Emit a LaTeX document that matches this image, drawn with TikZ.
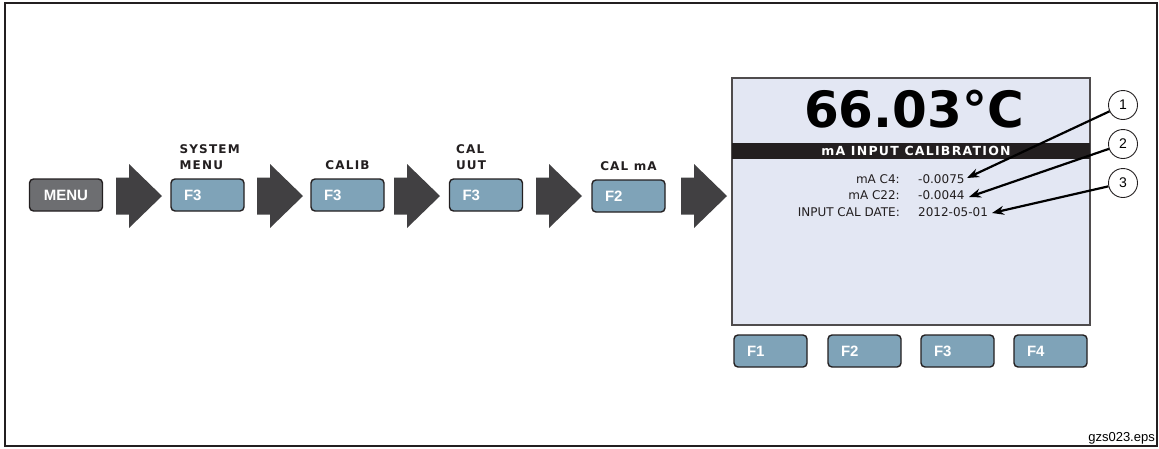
\documentclass[tikz,border=0pt]{standalone}
\usepackage{fontspec}
\setmainfont{DejaVu Sans}
\newfontfamily\keyfont{Liberation Sans}
\newfontfamily\capfont[LetterSpace=10]{DejaVu Sans}
\usetikzlibrary{
    arrows.meta,
    positioning
}
\definecolor{keyblue}{HTML}{7FA3B8}
\definecolor{menugray}{HTML}{6D6E71}
\definecolor{arrgray}{HTML}{414042}
\definecolor{lcdfill}{HTML}{E3E7F3}
\definecolor{inkline}{HTML}{231F20}
\tikzset{
    key/.style={draw=inkline, line width=1.4pt, rounded corners=4pt, fill=keyblue,
        minimum width=73pt, minimum height=32pt, text width=47pt, inner xsep=13pt,
        inner ysep=0pt, align=left, text=white, font=\keyfont\bfseries\fontsize{15}{15}\selectfont},
    menukey/.style={key, fill=menugray, align=center},
    toplbl/.style={inner sep=0pt, align=left, text=inkline,
        font=\capfont\bfseries\fontsize{12}{16}\selectfont},
    blockarr/.style={fill=arrgray},
    lcd/.style={draw=inkline!80, line width=1.2pt, fill=lcdfill,
        minimum width=358pt, minimum height=247pt, inner sep=0pt},
    lcdbar/.style={fill=inkline, minimum width=358pt, minimum height=16pt, inner sep=0pt},
    bartxt/.style={text=white, inner sep=0pt, font=\capfont\bfseries\fontsize{12.5}{12.5}\selectfont},
    rowtxt/.style={inner sep=0pt, text=inkline, font=\fontsize{12}{12}\selectfont},
    callout/.style={circle, draw=inkline, line width=0.9pt, fill=white, minimum size=29pt,
        inner sep=0pt, font=\keyfont\fontsize{14}{14}\selectfont},
    leader/.style={draw=black, line width=2.2pt, -{Stealth[length=12pt,width=9pt]}}
}
\begin{document}
\begin{tikzpicture}[x=1pt, y=-1pt]
    \useasboundingbox (0,0) rectangle (1159,448);
    \draw[line width=1.5pt, inkline] (5,3) rectangle (1157,446);

    % key sequence
    \node[menukey] (menu) at (66,195) {MENU};
    \node[key] (sysf3) at (207.5,195) {F3};
    \node[key] (calibf3) at (347.5,195) {F3};
    \node[key] (uutf3) at (486,195) {F3};
    \node[key] (camaf2) at (628.5,196) {F2};

    \node[toplbl, above right=8pt and 9pt of sysf3.north west] (syslbl) {SYSTEM\\MENU};
    \node[toplbl, above=8pt of calibf3] (caliblbl) {CALIB};
    \node[toplbl, above right=8pt and 7pt of uutf3.north west] (uutlbl) {CAL\\UUT};
    \node[toplbl, above=8pt of camaf2] (camalbl) {CAL mA};

    \foreach \ax in {116,257,394,536,681}
        \fill[blockarr] (\ax,177.5) -- ++(13,0) -- ++(0,-13.5) -- ++(33,32)
            -- ++(-33,32) -- ++(0,-13.5) -- ++(-13,0) -- cycle;

    % display
    \node[lcd] (lcd) at (911,201.5) {};
    \node[anchor=base, inner sep=0pt, text=black,
        font=\bfseries\fontsize{50}{50}\selectfont] (temp) at (914,127) {66.03°C};
    \node[lcdbar] (bar) at (911,151) {};
    \node[bartxt] (bartitle) at (916,151) {mA INPUT CALIBRATION};

    \node[rowtxt, anchor=base east] (n1) at (900,183) {mA C4:};
    \node[rowtxt, anchor=base east] (n2) at (900,199.5) {mA C22:};
    \node[rowtxt, anchor=base east] (n3) at (900,216) {INPUT CAL DATE:};
    \node[rowtxt, anchor=base west] (v1) at (918,183) {-0.0075};
    \node[rowtxt, anchor=base west] (v2) at (918,199.5) {-0.0044};
    \node[rowtxt, anchor=base west] (v3) at (918,216) {2012-05-01};

    \foreach \k/\cx in {1/770.5, 2/864.5, 3/957.5, 4/1050.5}
        \node[key] (soft\k) at (\cx,351) {F\k};

    % callouts
    \node[callout] (c1) at (1123,105) {1};
    \node[callout] (c2) at (1123,144) {2};
    \node[callout] (c3) at (1123,183) {3};
    \coordinate (t1) at (967,178);
    \coordinate (t2) at (969,197);
    \coordinate (t3) at (992,213);
    \draw[leader] (c1) -- (t1);
    \draw[leader] (c2) -- (t2);
    \draw[leader] (c3) -- (t3);

    \node[anchor=base east, fill=white, inner sep=1pt,
        font=\keyfont\fontsize{13}{13}\selectfont] (fig) at (1156,441) {gzs023.eps};
\end{tikzpicture}
\end{document}
